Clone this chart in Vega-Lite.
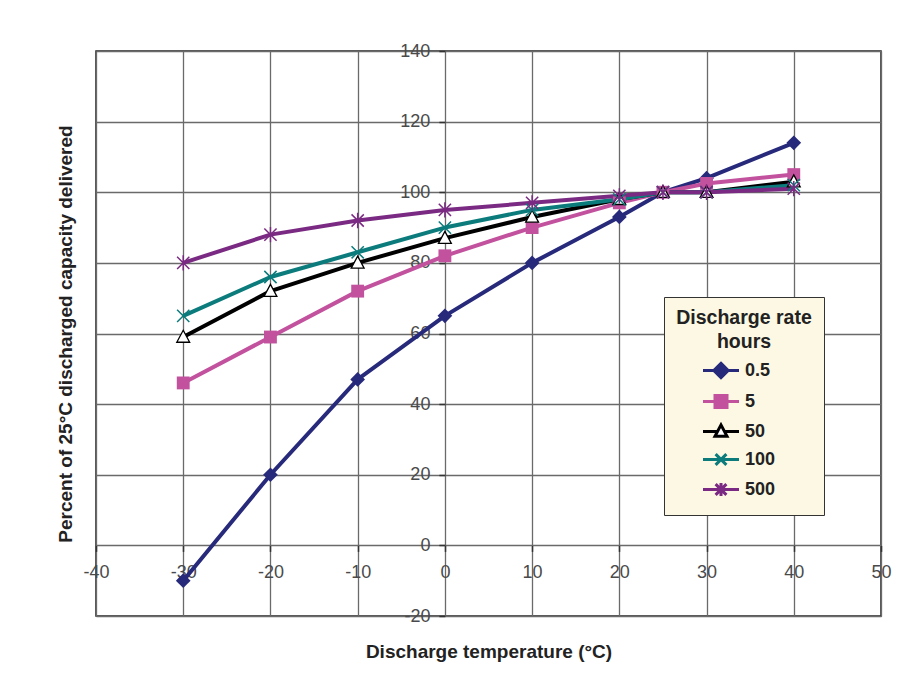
{
  "$schema": "https://vega.github.io/schema/vega-lite/v6.json",
  "width": 785,
  "height": 565,
  "autosize": "none",
  "padding": {"left": 96, "top": 51, "right": 33, "bottom": 69},
  "background": "white",
  "config": {
    "font": "Liberation Sans",
    "view": {"stroke": "#222", "strokeWidth": 1.5},
    "axis": {
      "gridColor": "#6a6a6a", "gridWidth": 1.3, "gridOpacity": 1,
      "domain": false,
      "tickColor": "#333", "tickWidth": 1.5, "tickSize": 6,
      "labelFont": "Liberation Sans", "labelFontSize": 18, "labelColor": "#4a4a4a",
      "labelFlush": false, "labelOverlap": false,
      "titleFont": "Liberation Sans", "titleFontSize": 19, "titleFontWeight": "bold", "titleColor": "#222"
    },
    "legend": {
      "orient": "none", "legendX": 568, "legendY": 246,
      "titleAnchor": "middle", "titleAlign": "center",
      "titleFontSize": 19.5, "titleFontWeight": "bold", "titleColor": "#222", "titleLineHeight": 24, "titlePadding": 9,
      "labelFontSize": 18, "labelFontWeight": "bold", "labelColor": "#222",
      "fillColor": "#FCF8E3", "strokeColor": "#333", "padding": 12,
      "symbolSize": 144, "symbolStrokeWidth": 3, "symbolOpacity": 1,
      "labelOffset": 15, "rowPadding": 5
    }
  },
  "data": {"values": [
    {"t": -30, "v": -10, "s": "0.5"}, {"t": -20, "v": 20, "s": "0.5"}, {"t": -10, "v": 47, "s": "0.5"}, {"t": 0, "v": 65, "s": "0.5"}, {"t": 10, "v": 80, "s": "0.5"}, {"t": 20, "v": 93, "s": "0.5"}, {"t": 25, "v": 100, "s": "0.5"}, {"t": 30, "v": 104, "s": "0.5"}, {"t": 40, "v": 114, "s": "0.5"},
    {"t": -30, "v": 46, "s": "5"}, {"t": -20, "v": 59, "s": "5"}, {"t": -10, "v": 72, "s": "5"}, {"t": 0, "v": 82, "s": "5"}, {"t": 10, "v": 90, "s": "5"}, {"t": 20, "v": 97, "s": "5"}, {"t": 25, "v": 100, "s": "5"}, {"t": 30, "v": 102.5, "s": "5"}, {"t": 40, "v": 105, "s": "5"},
    {"t": -30, "v": 59, "s": "50"}, {"t": -20, "v": 72, "s": "50"}, {"t": -10, "v": 80, "s": "50"}, {"t": 0, "v": 87, "s": "50"}, {"t": 10, "v": 93, "s": "50"}, {"t": 20, "v": 98, "s": "50"}, {"t": 25, "v": 100, "s": "50"}, {"t": 30, "v": 100, "s": "50"}, {"t": 40, "v": 103, "s": "50"},
    {"t": -30, "v": 65, "s": "100"}, {"t": -20, "v": 76, "s": "100"}, {"t": -10, "v": 83, "s": "100"}, {"t": 0, "v": 90, "s": "100"}, {"t": 10, "v": 95, "s": "100"}, {"t": 20, "v": 98, "s": "100"}, {"t": 25, "v": 100, "s": "100"}, {"t": 30, "v": 100, "s": "100"}, {"t": 40, "v": 102, "s": "100"},
    {"t": -30, "v": 80, "s": "500"}, {"t": -20, "v": 88, "s": "500"}, {"t": -10, "v": 92, "s": "500"}, {"t": 0, "v": 95, "s": "500"}, {"t": 10, "v": 97, "s": "500"}, {"t": 20, "v": 99, "s": "500"}, {"t": 25, "v": 100, "s": "500"}, {"t": 30, "v": 100, "s": "500"}, {"t": 40, "v": 101, "s": "500"}
  ]},
  "encoding": {
    "x": {
      "field": "t", "type": "quantitative",
      "scale": {"domain": [-40, 50], "nice": false, "zero": false},
      "axis": {
        "values": [-40, -30, -20, -10, 0, 10, 20, 30, 40, 50],
        "offset": -70.6, "labelPadding": 12,
        "labelExpr": "datum.value + ''",
        "title": "Discharge temperature (°C)",
        "titleY": 112, "titleBaseline": "alphabetic"
      }
    },
    "y": {
      "field": "v", "type": "quantitative",
      "scale": {"domain": [-20, 140], "nice": false, "zero": false},
      "axis": {
        "values": [-20, 0, 20, 40, 60, 80, 100, 120, 140],
        "offset": -348.9, "labelPadding": 9,
        "labelExpr": "datum.value + ''",
        "title": "Percent of 25°C discharged capacity delivered",
        "titleX": -373, "titleBaseline": "alphabetic", "titleAngle": -90
      }
    }
  },
  "layer": [
    {
      "mark": {"type": "line", "strokeWidth": 4, "strokeJoin": "round"},
      "encoding": {
        "color": {
          "field": "s", "type": "nominal",
          "scale": {"domain": ["0.5", "5", "50", "100", "500"], "range": ["#27297A", "#C2519E", "#000000", "#0B7B7C", "#7A2A82"]},
          "legend": {"title": ["Discharge rate", "hours"]}
        }
      }
    },
    {
      "transform": [{"filter": "datum.s == '0.5'"}],
      "mark": {"type": "point", "shape": "M0,-1.2L1.2,0L0,1.2L-1.2,0Z", "filled": true, "color": "#27297A", "opacity": 1, "size": 150}
    },
    {
      "transform": [{"filter": "datum.s == '5'"}],
      "mark": {"type": "point", "shape": "M-1.05,-1.05H1.05V1.05H-1.05Z", "filled": true, "color": "#C2519E", "opacity": 1, "size": 150}
    },
    {
      "transform": [{"filter": "datum.s == '50'"}],
      "mark": {"type": "point", "shape": "M0,-1.1L1.05,0.85H-1.05Z", "filled": false, "fill": "#ffffff", "stroke": "#000000", "strokeWidth": 1.3, "opacity": 1, "size": 150}
    },
    {
      "transform": [{"filter": "datum.s == '100'"}],
      "mark": {"type": "point", "shape": "M-1,-1L1,1M1,-1L-1,1", "filled": false, "stroke": "#0B7B7C", "strokeWidth": 1.5, "opacity": 1, "size": 150}
    },
    {
      "transform": [{"filter": "datum.s == '500'"}],
      "mark": {"type": "point", "shape": "M-1,-1L1,1M1,-1L-1,1M0,-1.25V1.25", "filled": false, "stroke": "#7A2A82", "strokeWidth": 1.5, "opacity": 1, "size": 150}
    },
    {
      "transform": [{"filter": "false"}],
      "mark": {"type": "point", "filled": false, "opacity": 1, "size": 144, "strokeWidth": 3},
      "encoding": {
        "color": {
          "field": "s", "type": "nominal",
          "scale": {"domain": ["0.5", "5", "50", "100", "500"], "range": ["#27297A", "#C2519E", "#000000", "#0B7B7C", "#7A2A82"]},
          "legend": {"title": ["Discharge rate", "hours"]}
        },
        "shape": {
          "field": "s", "type": "nominal",
          "scale": {"domain": ["0.5", "5", "50", "100", "500"], "range": ["M-3,0H3M0,-1.2L1.2,0L0,1.2L-1.2,0Z", "M-3,0H3M-1,-1H1V1H-1Z", "M-3,0H-0.6M0.6,0H3M0,-1.1L1,0.8H-1Z", "M-3,0H3M-0.9,-0.9L0.9,0.9M0.9,-0.9L-0.9,0.9", "M-3,0H3M-0.9,-0.9L0.9,0.9M0.9,-0.9L-0.9,0.9M0,-1.1V1.1"]},
          "legend": {"title": ["Discharge rate", "hours"]}
        },
        "fill": {
          "field": "s", "type": "nominal",
          "scale": {"domain": ["0.5", "5", "50", "100", "500"], "range": ["#27297A", "#C2519E", "#ffffff", "#0B7B7C", "#7A2A82"]},
          "legend": {"title": ["Discharge rate", "hours"]}
        }
      }
    }
  ]
}
